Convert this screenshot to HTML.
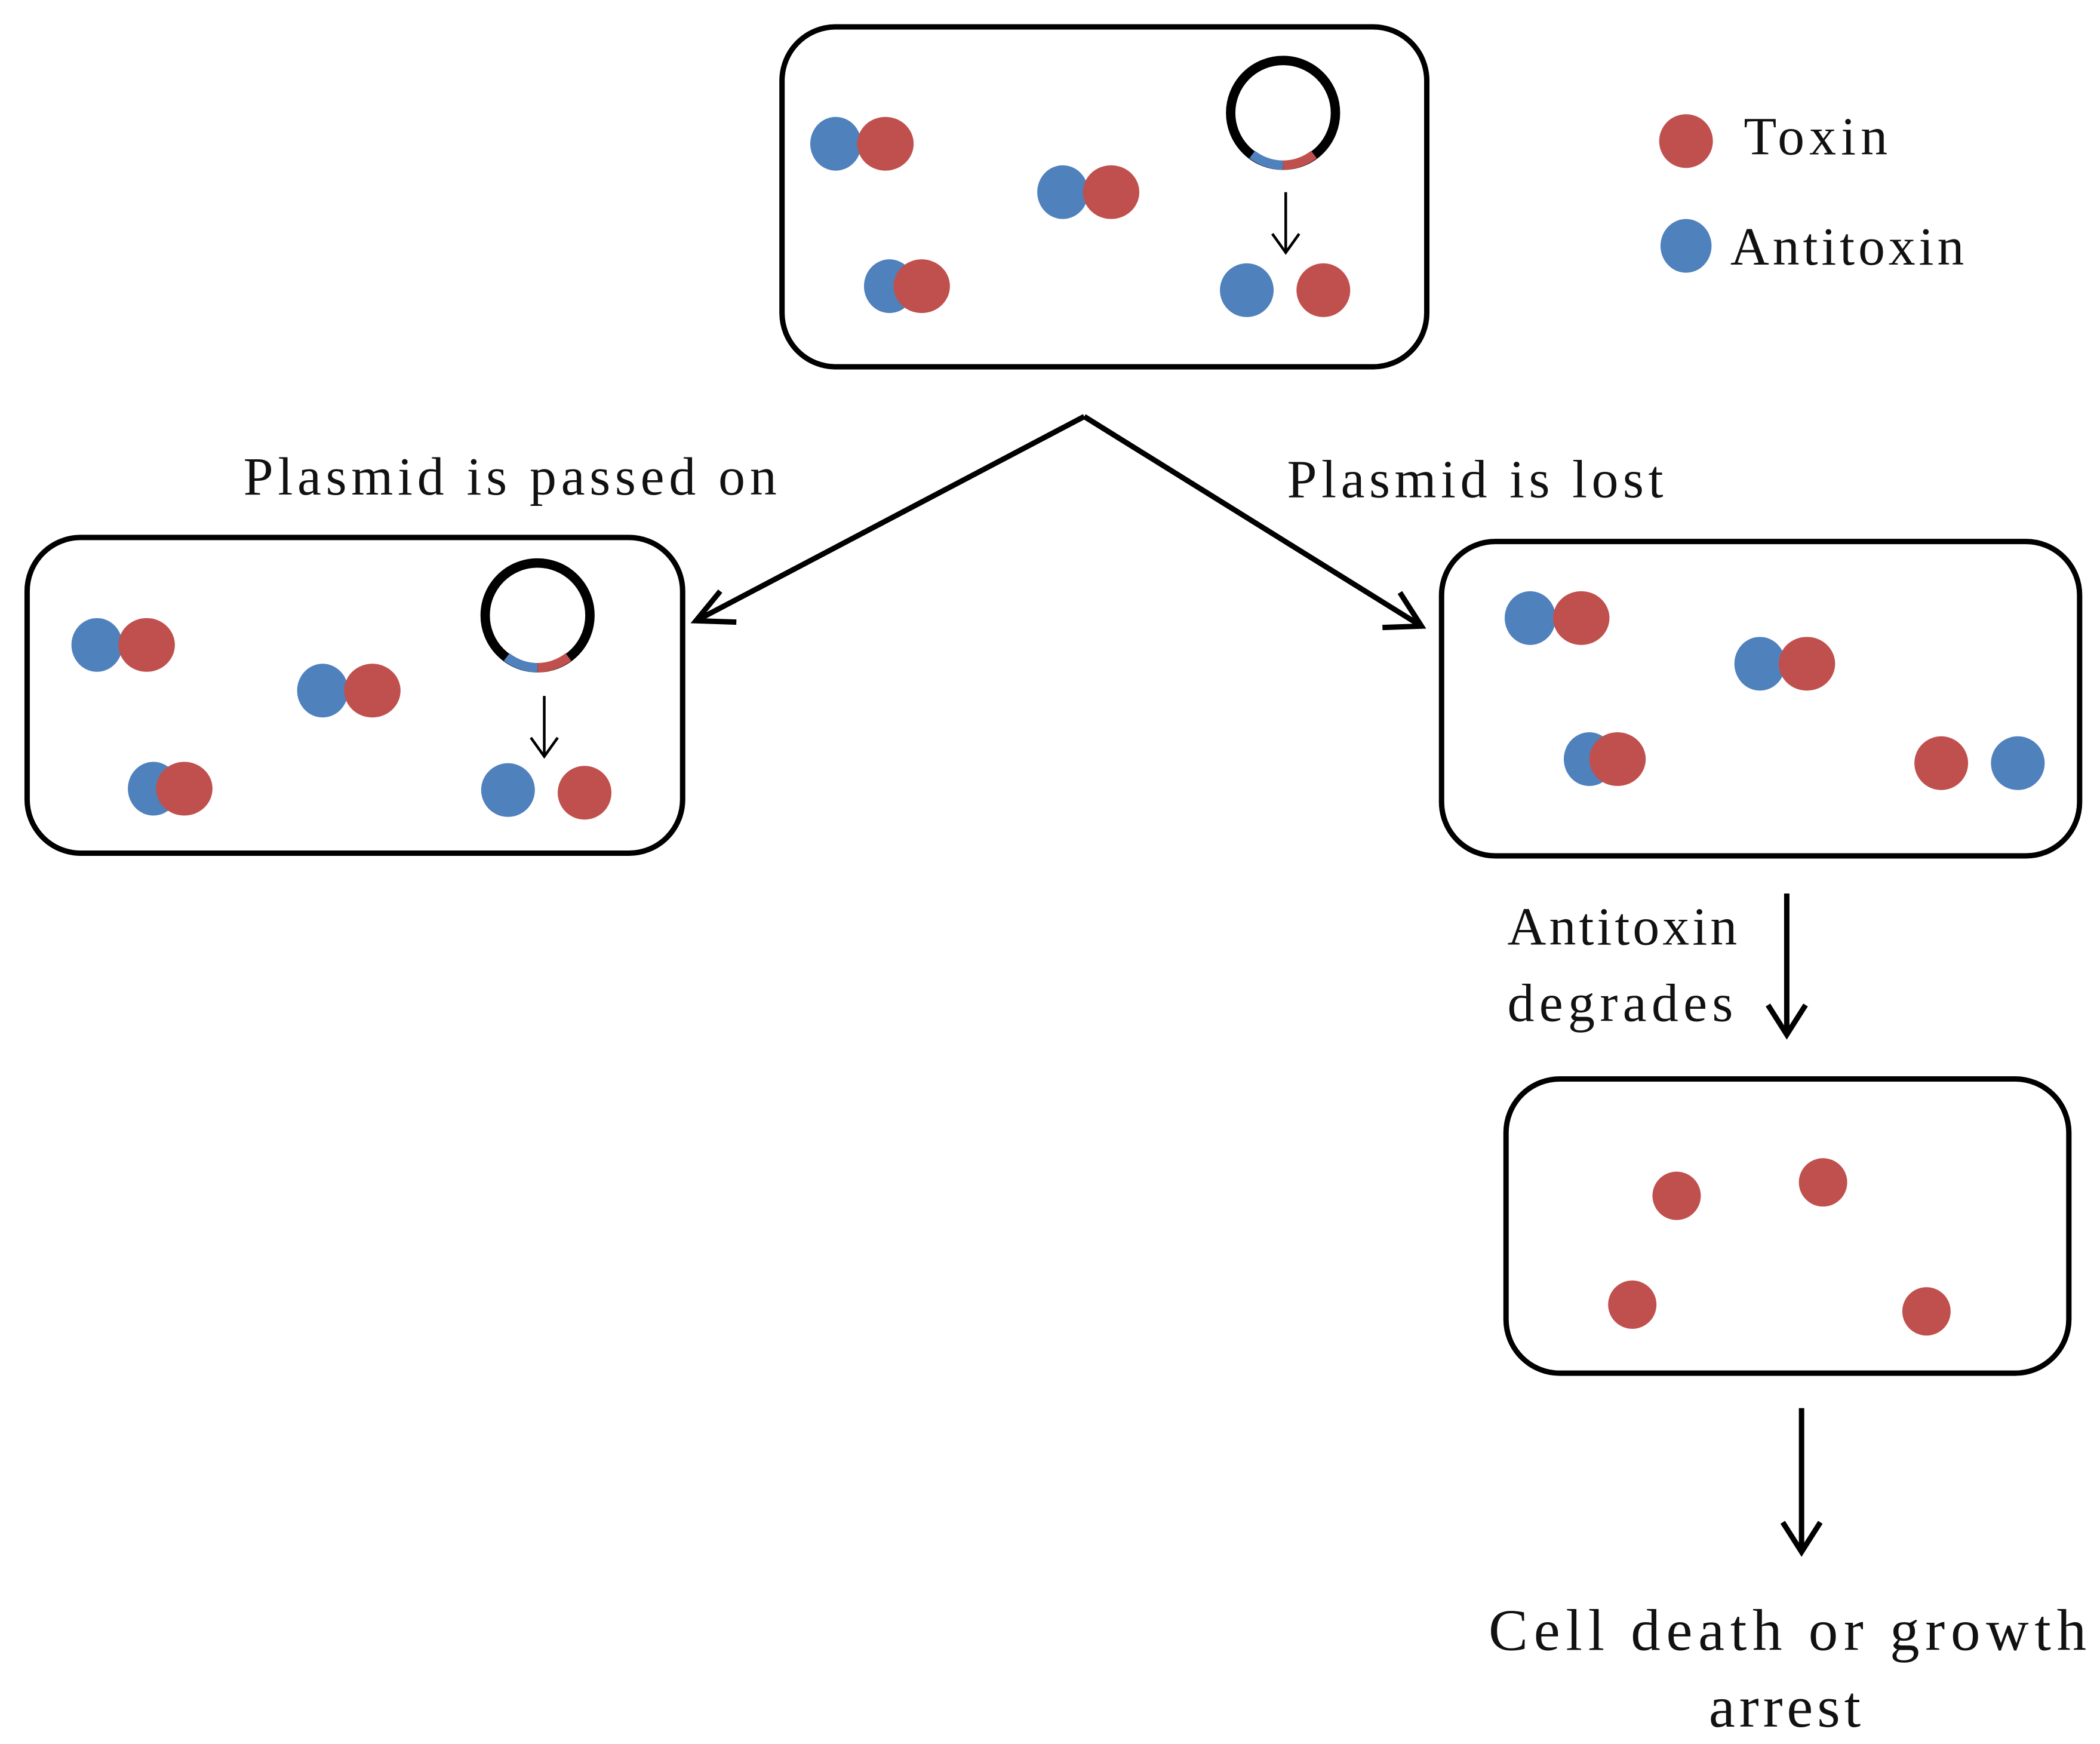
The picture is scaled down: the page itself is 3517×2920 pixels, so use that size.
<!DOCTYPE html>
<html><head><meta charset="utf-8"><style>
html,body{margin:0;padding:0;background:#fff;}
svg{display:block;}
text{font-family:"Liberation Serif",serif;fill:#111;}
</style></head><body>
<svg width="3517" height="2920" viewBox="0 0 1563 1298" xmlns="http://www.w3.org/2000/svg">
<g fill="none" stroke="#000" stroke-width="4">
<rect x="582" y="20" width="480" height="253" rx="40"/>
<rect x="20" y="400" width="488" height="235" rx="40"/>
<rect x="1073" y="403" width="475" height="234" rx="40"/>
<rect x="1121" y="803" width="419" height="219" rx="40"/>
</g>
<g>
<g fill="#4f81bd">
<ellipse cx="622" cy="107" rx="19" ry="20"/><ellipse cx="791" cy="143" rx="19" ry="20"/><ellipse cx="662" cy="213" rx="19" ry="20"/><ellipse cx="928" cy="216" rx="20" ry="20"/>
<ellipse cx="72" cy="480" rx="19" ry="20"/><ellipse cx="240" cy="514" rx="19" ry="20"/><ellipse cx="114" cy="587" rx="19" ry="20"/><ellipse cx="378" cy="588" rx="20" ry="20"/>
<ellipse cx="1139" cy="460" rx="19" ry="20"/><ellipse cx="1310" cy="494" rx="19" ry="20"/><ellipse cx="1183" cy="565" rx="19" ry="20"/><ellipse cx="1502" cy="568" rx="20" ry="20"/>
<ellipse cx="1255" cy="183" rx="19" ry="20"/>
</g>
<g fill="#c0504d">
<ellipse cx="659" cy="107" rx="21" ry="20"/><ellipse cx="827" cy="143" rx="21" ry="20"/><ellipse cx="686" cy="213" rx="21" ry="20"/><ellipse cx="985" cy="216" rx="20" ry="20"/>
<ellipse cx="109" cy="480" rx="21" ry="20"/><ellipse cx="277" cy="514" rx="21" ry="20"/><ellipse cx="137" cy="587" rx="21" ry="20"/><ellipse cx="435" cy="590" rx="20" ry="20"/>
<ellipse cx="1177" cy="460" rx="21" ry="20"/><ellipse cx="1345" cy="494" rx="21" ry="20"/><ellipse cx="1204" cy="565" rx="21" ry="20"/><ellipse cx="1445" cy="568" rx="20" ry="20"/>
<ellipse cx="1248" cy="890" rx="18" ry="18"/><ellipse cx="1357" cy="880" rx="18" ry="18"/><ellipse cx="1215" cy="971" rx="18" ry="18"/><ellipse cx="1434" cy="976" rx="18" ry="18"/>
<ellipse cx="1255" cy="105" rx="20" ry="20"/>
</g>
</g>
<g fill="none" stroke-width="7">
<circle cx="955" cy="84" r="39" stroke="#000"/>
<path d="M932,115 A39,39 0 0 0 955,123" stroke="#4f81bd"/>
<path d="M955,123 A39,39 0 0 0 978,115" stroke="#c0504d"/>
<circle cx="400" cy="458" r="39" stroke="#000"/>
<path d="M377,489 A39,39 0 0 0 400,497" stroke="#4f81bd"/>
<path d="M400,497 A39,39 0 0 0 423,489" stroke="#c0504d"/>
</g>
<g fill="none" stroke="#000" stroke-width="2">
<path d="M957,143 V188 M947,174 L957,188 L967,174"/>
<path d="M405,518 V563 M395,549 L405,563 L415,549"/>
</g>
<g fill="none" stroke="#000" stroke-width="4">
<path d="M807,310 L518,462 M548,463 L518,462 L536,440"/>
<path d="M807,310 L1058,466 M1029,467 L1058,466 L1042,441"/>
<path d="M1330,665 V770 M1316,748 L1330,770 L1344,748"/>
<path d="M1341,1048 V1155 M1327,1133 L1341,1155 L1355,1133"/>
</g>
<g font-size="40" lengthAdjust="spacing">
<text x="1298" y="115" textLength="107" lengthAdjust="spacing">Toxin</text>
<text x="1288" y="197" textLength="174" lengthAdjust="spacing">Antitoxin</text>
<text x="181" y="368" textLength="397" lengthAdjust="spacing">Plasmid is passed on</text>
<text x="958" y="370" textLength="280" lengthAdjust="spacing">Plasmid is lost</text>
<text x="1122" y="703" textLength="171" lengthAdjust="spacing">Antitoxin</text>
<text x="1122" y="760" textLength="168" lengthAdjust="spacing">degrades</text>
</g>
<g font-size="44">
<text x="1108" y="1228" textLength="445" lengthAdjust="spacing">Cell death or growth</text>
<text x="1272" y="1285" textLength="113" lengthAdjust="spacing">arrest</text>
</g>
</svg>
</body></html>
